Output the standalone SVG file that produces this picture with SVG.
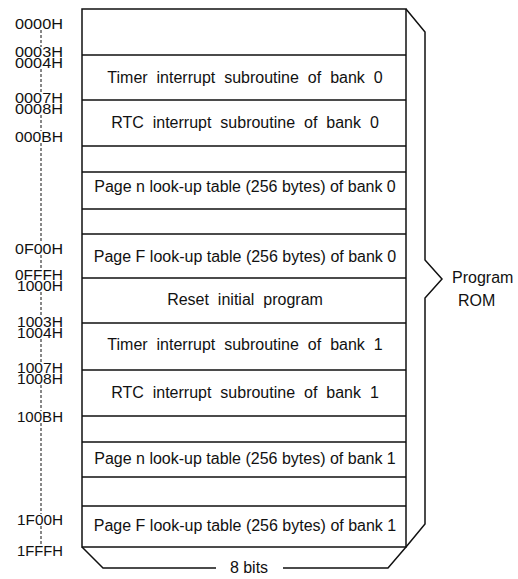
<svg xmlns="http://www.w3.org/2000/svg" width="518" height="579" viewBox="0 0 518 579">
<style>
text{font-family:"Liberation Sans",Arial,sans-serif;fill:#111}
.cell{font-size:16px;text-anchor:middle}
.wide{word-spacing:4.5px}
.addr{font-size:14px;text-anchor:end}
.ln{stroke:#111;stroke-width:1.5;fill:none}
.dash{stroke:#111;stroke-width:1;stroke-dasharray:3 2;fill:none}
</style>
<rect width="518" height="579" fill="#fff"/>
<g id="connectors">
<path class="ln" d="M406,9 L425,32 L425,260 L442,279 L425,298 L425,524 L406,547"/>
<path class="ln" d="M82,547 L103,568 L216,568 M283,568 L388,568 L406,547"/>
<path class="dash" d="M41,30V47 M41,69V93 M41,115V131 M41,143V243 M41,255V270 M41,292V317 M41,339V363 M41,385V411 M41,423V514 M41,526V545"/>
</g>
<g id="memory">
<rect class="ln" x="82" y="9" width="324" height="538"/>
<path class="ln" d="M82,55H406 M82,100H406 M82,146H406 M82,172H406 M82,209H406 M82,234H406 M82,278H406 M82,323H406 M82,370H406 M82,416H406 M82,442H406 M82,477H406 M82,506H406"/>
</g>
<g id="cells">
<text class="cell wide" x="245" y="83">Timer interrupt subroutine of bank 0</text>
<text class="cell wide" x="245" y="128">RTC interrupt subroutine of bank 0</text>
<text class="cell" x="245" y="192">Page n look-up table (256 bytes) of bank 0</text>
<text class="cell" x="245" y="262">Page F look-up table (256 bytes) of bank 0</text>
<text class="cell wide" x="245" y="305">Reset initial program</text>
<text class="cell wide" x="245" y="350">Timer interrupt subroutine of bank 1</text>
<text class="cell wide" x="245" y="398">RTC interrupt subroutine of bank 1</text>
<text class="cell" x="245" y="464">Page n look-up table (256 bytes) of bank 1</text>
<text class="cell" x="245" y="531">Page F look-up table (256 bytes) of bank 1</text>
</g>
<g id="addresses">
<text class="addr" x="63" y="29" textLength="48" lengthAdjust="spacingAndGlyphs">0000H</text>
<text class="addr" x="63" y="57" textLength="48" lengthAdjust="spacingAndGlyphs">0003H</text>
<text class="addr" x="63" y="68" textLength="48" lengthAdjust="spacingAndGlyphs">0004H</text>
<text class="addr" x="63" y="103" textLength="48" lengthAdjust="spacingAndGlyphs">0007H</text>
<text class="addr" x="63" y="114" textLength="48" lengthAdjust="spacingAndGlyphs">0008H</text>
<text class="addr" x="63" y="142" textLength="48" lengthAdjust="spacingAndGlyphs">000BH</text>
<text class="addr" x="63" y="254" textLength="48" lengthAdjust="spacingAndGlyphs">0F00H</text>
<text class="addr" x="63" y="280" textLength="48" lengthAdjust="spacingAndGlyphs">0FFFH</text>
<text class="addr" x="63" y="291" textLength="46" lengthAdjust="spacingAndGlyphs">1000H</text>
<text class="addr" x="63" y="327" textLength="46" lengthAdjust="spacingAndGlyphs">1003H</text>
<text class="addr" x="63" y="338" textLength="46" lengthAdjust="spacingAndGlyphs">1004H</text>
<text class="addr" x="63" y="373" textLength="46" lengthAdjust="spacingAndGlyphs">1007H</text>
<text class="addr" x="63" y="384" textLength="46" lengthAdjust="spacingAndGlyphs">1008H</text>
<text class="addr" x="63" y="422" textLength="46" lengthAdjust="spacingAndGlyphs">100BH</text>
<text class="addr" x="63" y="525" textLength="46" lengthAdjust="spacingAndGlyphs">1F00H</text>
<text class="addr" x="63" y="556" textLength="46" lengthAdjust="spacingAndGlyphs">1FFFH</text>
</g>
<g id="program-rom">
<text style="font-size:16px" x="452" y="283">Program</text>
<text style="font-size:16px" x="458" y="306">ROM</text>
</g>
<g id="width-label">
<text class="cell" x="249" y="573">8 bits</text>
</g>
</svg>
